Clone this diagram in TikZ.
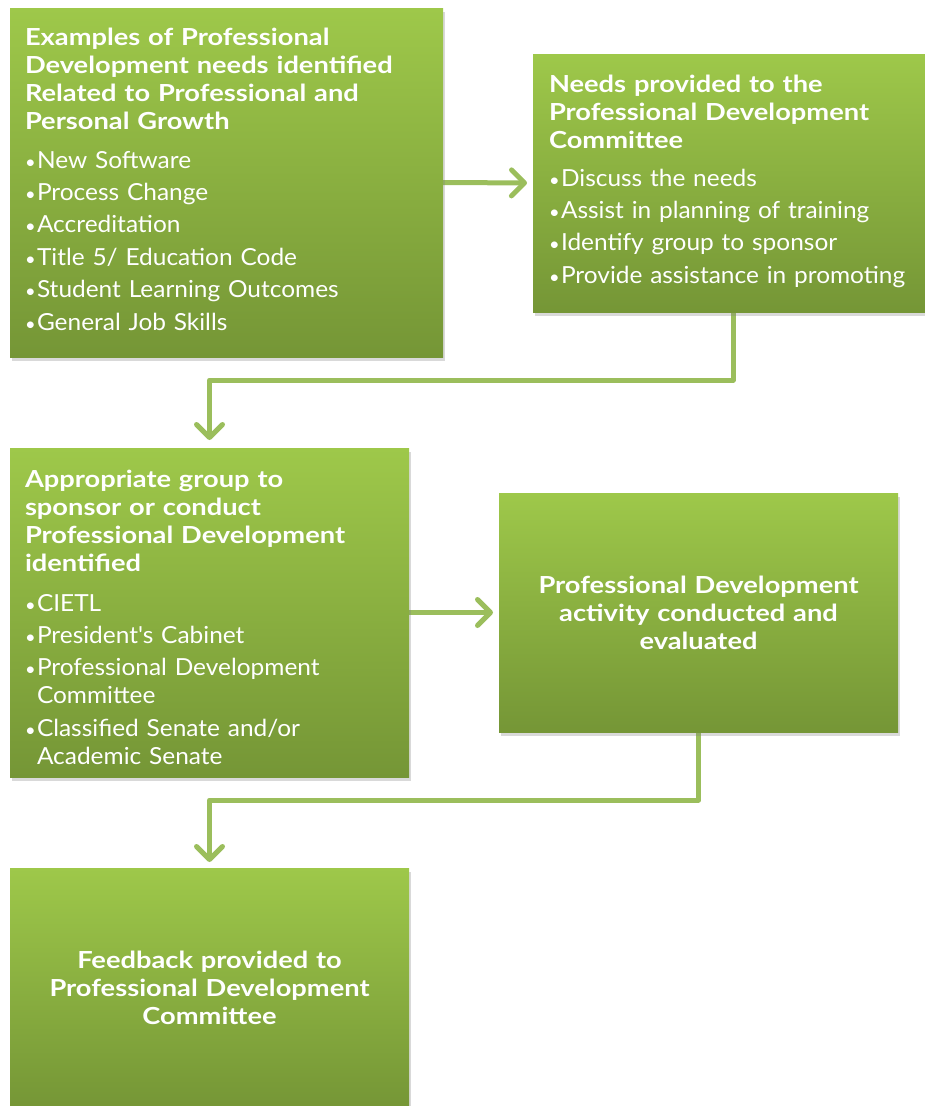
\documentclass[tikz,border=0pt]{standalone}
\usepackage{fontspec}
\setmainfont{Lato}[FakeStretch=1.04]
\newfontfamily\ttlfont{Lato}[FakeStretch=1.16]
\usetikzlibrary{arrows.meta,shadows}
\definecolor{gtop}{RGB}{158,200,74}
\definecolor{gbot}{RGB}{117,150,54}
\definecolor{conncol}{RGB}{155,190,92}
\pgfdeclarelayer{background}
\pgfsetlayers{background,main}
\newcommand\mybul{\makebox[12pt][l]{\scalebox{0.75}{•}}}
\newcommand\myind{\hspace*{12pt}}
\tikzset{
  box/.style={rectangle, draw=none, inner sep=0pt, outer sep=0pt,
    top color=gtop, bottom color=gbot,
    drop shadow={shadow xshift=1.5pt, shadow yshift=-4pt, opacity=0.3}},
  txt/.style={text=white, inner sep=0pt, outer sep=0pt, align=left,
    font=\fontsize{23.5}{28}\selectfont},
  connector/.style={draw=conncol, line width=5pt, line cap=round, line join=round,
    -{Straight Barb[length=13pt,width=26pt,round]}},
}
\begin{document}
\begin{tikzpicture}[x=1pt,y=-1pt]
\useasboundingbox (0,0) rectangle (924,1106);
% boxes
\node[box, anchor=north west, minimum width=433pt, minimum height=349pt] (b1) at (10,8) {};
\node[box, anchor=north west, minimum width=400pt, minimum height=258pt] (b2) at (533,54) {};
\node[box, anchor=north west, minimum width=399pt, minimum height=329pt] (b3) at (10,448) {};
\node[box, anchor=north west, minimum width=399pt, minimum height=239pt] (b4) at (499,493) {};
\node[box, anchor=north west, minimum width=399pt, minimum height=240pt] (b5) at (10,868) {};
% texts
\node[txt, text width=420pt, anchor=north west] (t1) at (25,25.4) {\strut\ttlfont\bfseries Examples of Professional\\ Development needs identified\\ Related to Professional and\\ Personal Growth\\[11pt]
\normalfont\mybul New Software\\[4.4pt]
\mybul Process Change\\[4.4pt]
\mybul Accreditation\\[4.4pt]
\mybul Title 5/ Education Code\\[4.4pt]
\mybul Student Learning Outcomes\\[4.4pt]
\mybul General Job Skills};
\node[txt, text width=385pt, anchor=north west] (t2) at (549,72.4) {\strut\ttlfont\bfseries Needs provided to the\\ Professional Development\\ Committee\\[10pt]
\normalfont\mybul Discuss the needs\\[4.4pt]
\mybul Assist in planning of training\\[4.4pt]
\mybul Identify group to sponsor\\[4.4pt]
\mybul Provide assistance in promoting};
\node[txt, text width=380pt, anchor=north west] (t3) at (25,467.4) {\strut\ttlfont\bfseries Appropriate group to\\ sponsor or conduct\\ Professional Development\\ identified\\[12pt]
\normalfont\mybul CIETL\\[4.4pt]
\mybul President\textquotesingle s Cabinet\\[4.4pt]
\mybul Professional Development\\ \myind Committee\\[4.4pt]
\mybul Classified Senate and/or\\ \myind Academic Senate};
\node[txt, text width=390pt, align=center, anchor=north] (t4) at (698.5,573.4) {\strut\ttlfont\bfseries Professional Development\\ activity conducted and\\ evaluated};
\node[txt, text width=390pt, align=center, anchor=north] (t5) at (209.5,948.4) {\strut\ttlfont\bfseries Feedback provided to\\ Professional Development\\ Committee};
% connectors
\begin{pgfonlayer}{background}
\draw[connector, shorten >=6pt] (b1.east) -- (b2.west);
\draw[connector, shorten >=8pt] (b2.south) -- ++(0,68) -| (b3.north);
\draw[connector, shorten >=6pt] (b3.east) -- (b4.west);
\draw[connector, shorten >=6pt] (b4.south) -- ++(0,68) -| (b5.north);
\end{pgfonlayer}
\end{tikzpicture}
\end{document}
